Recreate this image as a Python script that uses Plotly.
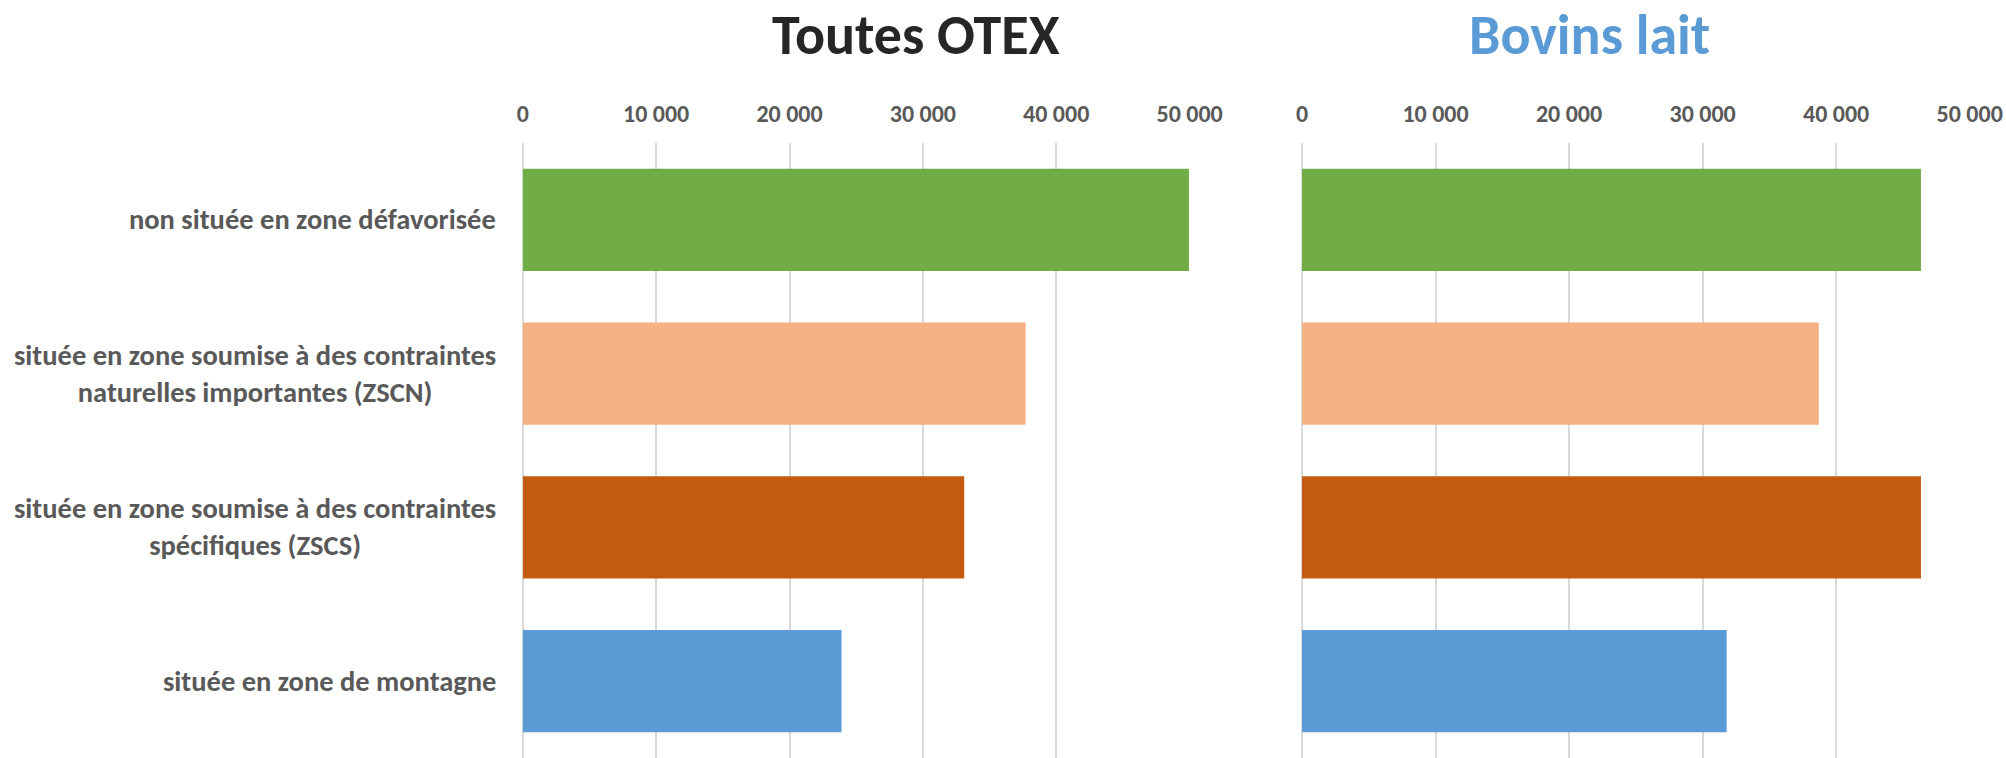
"""Two side-by-side bar charts by zone type."""
import plotly.graph_objects as go

categories = [
    "non située en zone défavorisée",
    "située en zone soumise à des contraintes<br>naturelles importantes (ZSCN)",
    "située en zone soumise à des contraintes<br>spécifiques (ZSCS)",
    "située en zone de montagne",
]
toutes_otex = [49950, 37700, 33100, 23900]
bovins_lait = [46350, 38700, 46350, 31800]
bar_colors = ["#70AD47", "#F4B183", "#C55A11", "#5B9BD5"]
tick_values = [0, 10000, 20000, 30000, 40000, 50000]

FONT = "Calibri, Carlito, Lato, sans-serif"
GREY = "#595959"
W, H = 2006, 758
TOP = 143  # plot area top, px

fig = go.Figure()
fig.add_trace(go.Bar(x=toutes_otex, y=categories, orientation="h", marker={"color": bar_colors, "line": {"width": 0}},
                     xaxis="x", yaxis="y", showlegend=False))
fig.add_trace(go.Bar(x=bovins_lait, y=categories, orientation="h", marker={"color": bar_colors, "line": {"width": 0}},
                     xaxis="x2", yaxis="y2", showlegend=False))

xaxis_common = dict(
    range=[0, 50000], side="top", tickvals=tick_values, tickformat=",d",
    showgrid=True, gridcolor="#d9d9d9", gridwidth=1.5,
    zeroline=True, zerolinecolor="#d9d9d9", zerolinewidth=1.5, showline=False,
    ticks="", ticklabelstandoff=15, automargin=False,
    tickfont={"family": FONT, "size": 24, "color": GREY, "weight": "bold"},
    fixedrange=True,
)
yaxis_common = dict(autorange="reversed", showticklabels=False, showgrid=False, zeroline=False, ticks="",
                    automargin=False, fixedrange=True)

left_dom = [522.8 / W, 1189.6 / W]
right_dom = [1302.0 / W, 1969.7 / W]

fig.update_layout(
    width=W, height=H,
    margin={"l": 0, "r": 0, "t": TOP, "b": 0},
    paper_bgcolor="#ffffff", plot_bgcolor="#ffffff",
    separators=", ",
    bargap=0.334,
    xaxis=dict(domain=left_dom, **xaxis_common),
    xaxis2=dict(domain=right_dom, **xaxis_common),
    yaxis=dict(anchor="x", **yaxis_common),
    yaxis2=dict(anchor="x2", **yaxis_common),
)

# category labels, lines centred as in the original
for cat in categories:
    fig.add_annotation(
        x=left_dom[0], xref="paper", xshift=-25, y=cat, yref="y",
        text=cat, showarrow=False, xanchor="right", yanchor="middle", align="center",
        font={"family": FONT, "size": 28.5, "color": GREY, "weight": "bold"},
    )

# panel titles, placed in pixels above the plot area
for label, xpix, colour in [("Toutes OTEX", 916, "#262626"), ("Bovins lait", 1589, "#5B9BD5")]:
    fig.add_annotation(x=xpix / W, y=1.0, xref="paper", yref="paper", text=label, showarrow=False,
                       xanchor="center", yanchor="middle", yshift=TOP - 35,
                       font={"family": FONT, "size": 56, "color": colour, "weight": "bold"})

# drop the default 8px page margin so the figure fills the window exactly
fig.write_html("out.html", config={"displayModeBar": False},
               post_script="document.body.style.margin = '0';")
